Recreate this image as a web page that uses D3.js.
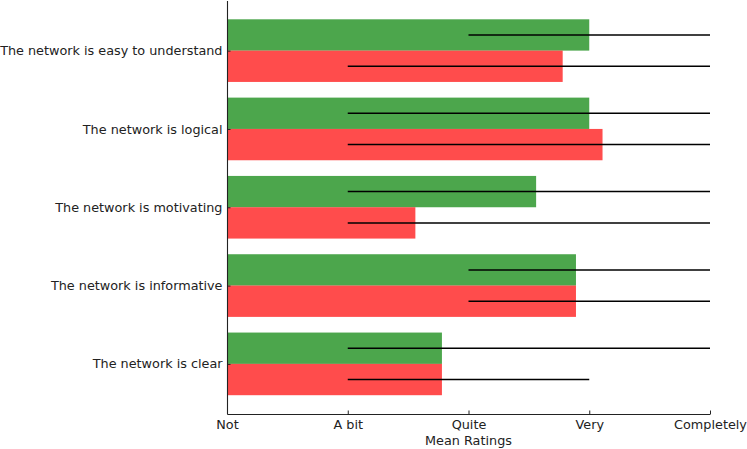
<!DOCTYPE html>
<html>
<head>
<meta charset="utf-8">
<script src="https://cdn.jsdelivr.net/npm/d3@7"></script>
<style>
  body { margin: 0; background: #fff; }
  text { font-family: "DejaVu Sans", sans-serif; fill: #222; }
</style>
</head>
<body>
<div id="chart"></div>
<script>
// categories from bottom (index 0) to top
var categories = ["The network is clear", "The network is informative", "The network is motivating",
                  "The network is logical", "The network is easy to understand"];
var tickLabels = ["Not", "A bit", "Quite", "Very", "Completely"];

var greenMeans = [1.78, 2.89, 2.56, 3.0, 3.0];
var greenLow   = [1, 2, 1, 1, 2];
var greenHigh  = [4, 4, 4, 4, 4];

var redMeans = [1.78, 2.89, 1.56, 3.11, 2.78];
var redLow   = [1, 2, 1, 1, 1];
var redHigh  = [3, 4, 4, 4, 4];

var w = 747, h = 449;
var padLeft = 227, padRight = 710, padTop = 0.5, padBottom = 414;
var barH = 0.4;
var fs = "12.8px";

var svg = d3.select("#chart").append("svg")
    .attr("width", w)
    .attr("height", h);

var x = d3.scaleLinear().domain([0, 4]).range([padLeft, padRight]);
var y = d3.scaleLinear().domain([-0.64, 4.64]).range([padBottom, padTop]);

function series(means, lows, highs, offset, color) {
    var rows = means.map(function(m, i) {
        return { i: i, m: m, lo: lows[i], hi: highs[i], c: i + offset };
    });
    svg.append("g").selectAll("rect")
        .data(rows)
        .enter()
        .append("rect")
        .attr("x", x(0))
        .attr("y", function(d) { return y(d.c + barH / 2); })
        .attr("width", function(d) { return x(d.m) - x(0); })
        .attr("height", function(d) { return y(d.c - barH / 2) - y(d.c + barH / 2); })
        .attr("fill", color)
        .attr("fill-opacity", 0.7);
    return rows;
}

var g = series(greenMeans, greenLow, greenHigh, 0.2, "green");
var r = series(redMeans, redLow, redHigh, -0.2, "red");

// error lines on top of the bars
svg.append("g").selectAll("line")
    .data(g.concat(r))
    .enter()
    .append("line")
    .attr("x1", function(d) { return x(d.lo); })
    .attr("x2", function(d) { return x(d.hi); })
    .attr("y1", function(d) { return y(d.c); })
    .attr("y2", function(d) { return y(d.c); })
    .attr("stroke", "#000")
    .attr("stroke-width", 1.5);

// x axis
var xAxis = d3.axisBottom(x)
    .tickValues([0, 1, 2, 3, 4])
    .tickFormat(function(d) { return tickLabels[d]; })
    .tickSizeInner(-3.5)
    .tickSizeOuter(0)
    .tickPadding(6);

var gx = svg.append("g")
    .attr("transform", "translate(0," + padBottom + ")")
    .call(xAxis);
gx.selectAll("text").attr("font-size", fs).attr("dy", "0.71em");
gx.select(".domain").attr("stroke", "#222").attr("stroke-width", 1.1);
gx.selectAll(".tick line").attr("stroke", "#222");

// y axis
var yAxis = d3.axisLeft(y)
    .tickValues([0, 1, 2, 3, 4])
    .tickFormat(function(d) { return categories[d]; })
    .tickSizeInner(-3.5)
    .tickSizeOuter(0)
    .tickPadding(4.5);

var gy = svg.append("g")
    .attr("transform", "translate(" + padLeft + ",0)")
    .call(yAxis);
gy.selectAll("text").attr("font-size", fs);
gy.select(".domain").attr("stroke", "#222").attr("stroke-width", 1.1);
gy.selectAll(".tick line").attr("stroke", "#222");

svg.append("text")
    .attr("x", (padLeft + padRight) / 2)
    .attr("y", 445)
    .attr("text-anchor", "middle")
    .attr("font-size", fs)
    .text("Mean Ratings");
</script>
</body>
</html>
